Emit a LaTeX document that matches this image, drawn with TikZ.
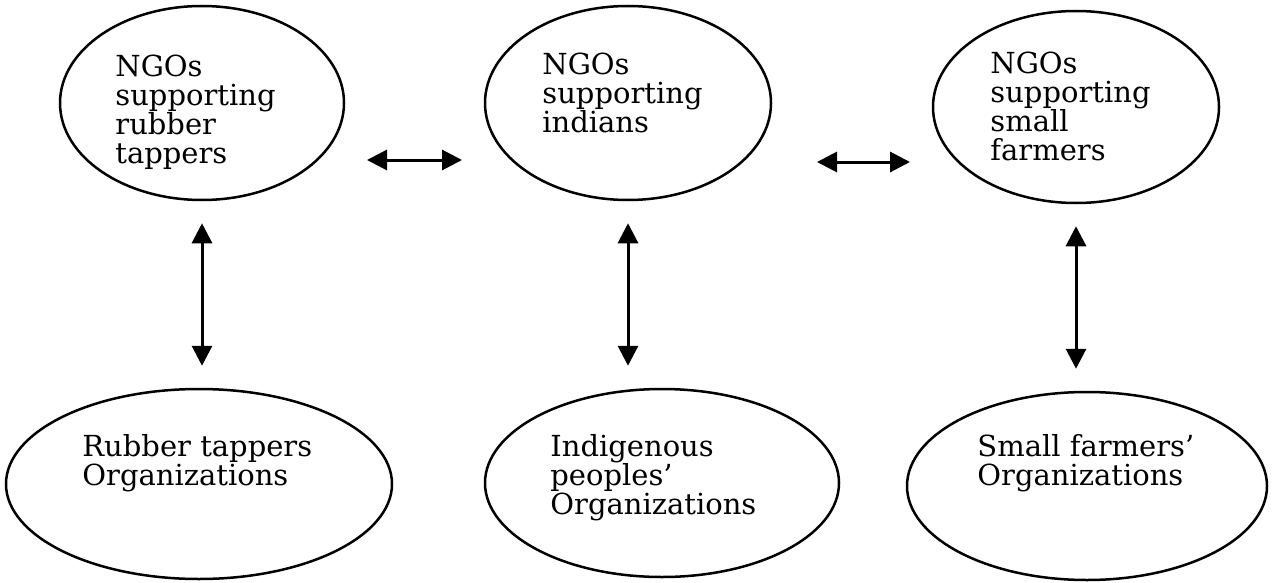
\documentclass[tikz,border=0pt]{standalone}
\usepackage{fontspec}
\setmainfont{DejaVu Serif}
\usetikzlibrary{shapes.geometric,arrows.meta}

\tikzset{
  blob/.style={ellipse, draw, line width=1.25pt, inner sep=0pt},
  lbl/.style={anchor=north west, align=left, inner sep=0pt,
    font=\fontsize{14.5}{14.5}\selectfont},
  link/.style={<->, line width=1.5pt, shorten <=11pt, shorten >=11pt}
}

\begin{document}
\begin{tikzpicture}[x=0.5pt, y=-0.5pt, >={Triangle[length=10pt,width=10pt]}]
\useasboundingbox (0,0) rectangle (1273,583);

% NGOs, top row
\node[blob, minimum width=142pt, minimum height=97pt] (ngoRT) at (202,103) {};
\node[blob, minimum width=143pt, minimum height=97pt] (ngoIN) at (628,103) {};
\node[blob, minimum width=143pt, minimum height=96pt] (ngoSF) at (1076,107) {};
\node[lbl] (txtRT) at (115,55) {NGOs\\supporting\\rubber\\tappers};
\node[lbl] (txtIN) at (542,53) {NGOs\\supporting\\indians};
\node[lbl] (txtSF) at (990,52) {NGOs\\supporting\\small\\farmers};

% organizations, bottom row
\node[blob, minimum width=193pt, minimum height=95pt] (orgRT) at (199,484) {};
\node[blob, minimum width=177pt, minimum height=94pt] (orgIP) at (662,483) {};
\node[blob, minimum width=180pt, minimum height=94pt] (orgSF) at (1087,486) {};
\node[lbl] (txtRTo) at (82,434) {Rubber tappers\\Organizations};
\node[lbl] (txtIP) at (550,434) {Indigenous\\peoples'\\Organizations};
\node[lbl] (txtSFo) at (977,434) {Small farmers'\\Organizations};

% links between the NGOs
\coordinate (hA) at (367,160); \coordinate (hB) at (462,160);
\coordinate (hC) at (817,162); \coordinate (hD) at (910,162);
\draw[<->, line width=1.5pt] (hA) -- (hB);
\draw[<->, line width=1.5pt] (hC) -- (hD);

% links NGO -- organization
\foreach \a/\b in {ngoRT/orgRT, ngoIN/orgIP, ngoSF/orgSF}
  \draw[link] (\a.south) -- (\a.south |- \b.north);

\end{tikzpicture}
\end{document}
